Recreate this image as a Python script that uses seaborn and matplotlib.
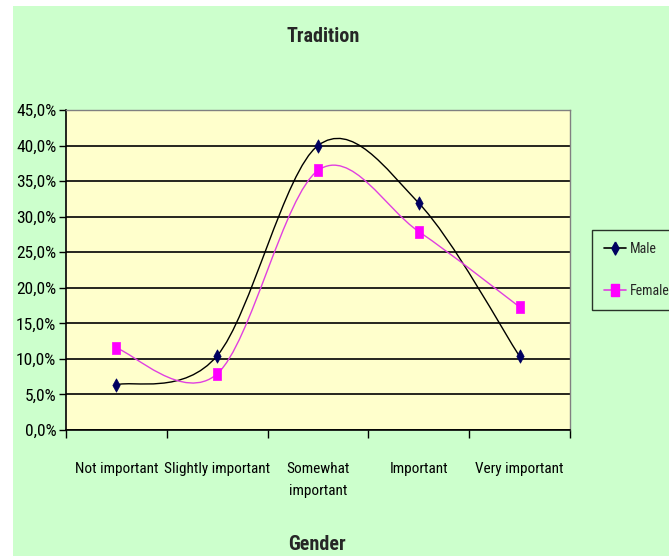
import numpy as np
import pandas as pd
import matplotlib
matplotlib.use("Agg")
import matplotlib.pyplot as plt
import seaborn as sns
from matplotlib.path import Path
from matplotlib.patches import PathPatch, Rectangle
from matplotlib.lines import Line2D
from matplotlib.ticker import FuncFormatter, FixedLocator

categories = ["Not important", "Slightly important", "Somewhat\nimportant", "Important", "Very important"]
male = [6.35, 10.45, 40.0, 31.9, 10.35]
female = [11.5, 7.9, 36.5, 27.9, 17.3]
series_names = ["Male", "Female"]
title = "Tradition"
xlabel = "Gender"

sns.set_theme(style="white")
plt.rcParams['font.family'] = ['Roboto Condensed', 'DejaVu Sans']

fig = plt.figure(figsize=(6.69, 5.56), dpi=100)
fig.patch.set_facecolor("white")
fig.patches.append(Rectangle((13/669, 0), 1 - 13/669, 1 - 6/556, transform=fig.transFigure,
                             facecolor="#CCFFCC", edgecolor="none", zorder=-10))

ax = fig.add_axes([66/669, 1 - 430/556, (570-66)/669, (430-110)/556])
ax.set_facecolor("#FFFFCC")

df = pd.DataFrame({"x": list(range(len(categories))) * 2,
                   "value": male + female,
                   "series": [series_names[0]] * len(male) + [series_names[1]] * len(female)})

diamond = [(0, 1), (0.55, 0), (0, -1), (-0.55, 0), (0, 1)]
rect = [(-0.6, -1), (0.6, -1), (0.6, 1), (-0.6, 1), (-0.6, -1)]
line_colors = {"Male": "#000000", "Female": "#E040E0"}
marker_colors = {"Male": "#000060", "Female": "#FF00FF"}
markers = {"Male": diamond, "Female": rect}
msizes = {"Male": 11, "Female": 10}


def smooth_path(xs, ys, t=1/6):
    pts = np.column_stack([xs, ys])
    verts = [tuple(pts[0])]
    codes = [Path.MOVETO]
    n = len(pts)
    for i in range(n - 1):
        p0 = pts[i - 1] if i > 0 else pts[i]
        p1 = pts[i]
        p2 = pts[i + 1]
        p3 = pts[i + 2] if i + 2 < n else pts[i + 1]
        c1 = p1 + (p2 - p0) * t
        c2 = p2 - (p3 - p1) * t
        verts += [tuple(c1), tuple(c2), tuple(p2)]
        codes += [Path.CURVE4] * 3
    return Path(verts, codes)


for name in series_names:
    sub = df[df["series"] == name]
    ax.add_patch(PathPatch(smooth_path(sub["x"].values, sub["value"].values),
                           facecolor="none", edgecolor=line_colors[name], lw=1.0, zorder=3))
    sns.scatterplot(data=sub, x="x", y="value", ax=ax, marker=markers[name],
                    color=marker_colors[name], s=msizes[name] ** 2 / 1.3, edgecolor=marker_colors[name],
                    linewidth=0.5, zorder=4, legend=False)

ax.set_xlim(-0.5, len(categories) - 0.5)
ax.set_ylim(0, 45)
ax.set_yticks(np.arange(0, 46, 5))
ax.yaxis.set_major_formatter(FuncFormatter(lambda v, p: f"{v:.1f}".replace(".", ",") + "%"))
ax.grid(axis="y", color="black", lw=1.2)
ax.set_axisbelow(True)

ax.set_xticks(range(len(categories)))
ax.set_xticklabels(categories)
ax.xaxis.set_minor_locator(FixedLocator(np.arange(-0.5, len(categories), 1)))
ax.tick_params(axis="x", which="major", length=0, pad=23, labelsize=11, colors="black")
ax.tick_params(axis="x", which="minor", length=6, width=1, direction="out", bottom=True, color="black")
ax.tick_params(axis="y", length=5, width=1, direction="out", left=True, labelsize=12.5, pad=2, colors="black")
for lab in ax.get_xticklabels():
    lab.set_linespacing(1.75)

for s in ["left", "bottom"]:
    ax.spines[s].set_color("black")
    ax.spines[s].set_linewidth(1.2)
for s in ["top", "right"]:
    ax.spines[s].set_color("#808080")
    ax.spines[s].set_linewidth(1.0)

ax.set_xlabel("")
ax.set_ylabel("")
fig.text(323/669, 1 - 37/556, title, ha="center", va="center", fontsize=14.5, fontweight="bold")
fig.text(317/669, 1 - 545/556, xlabel, ha="center", va="center", fontsize=14.5, fontweight="bold")

handles = [Line2D([0], [0], color=line_colors[n], lw=1.2, marker=markers[n],
                  markerfacecolor=marker_colors[n], markeredgecolor=marker_colors[n],
                  markersize=msizes[n] * 0.85) for n in series_names]
leg = fig.legend(handles, series_names, loc="center left",
                 bbox_to_anchor=(592/669, 1 - 270/556), frameon=True, fontsize=10,
                 handlelength=1.6, handletextpad=0.3, labelspacing=2.0, borderpad=0.85,
                 borderaxespad=0, fancybox=False)
leg.get_frame().set_edgecolor("black")
leg.get_frame().set_facecolor("#CCFFCC")
leg.get_frame().set_linewidth(1.0)

fig.savefig("out.png", dpi=100, facecolor=fig.get_facecolor())
